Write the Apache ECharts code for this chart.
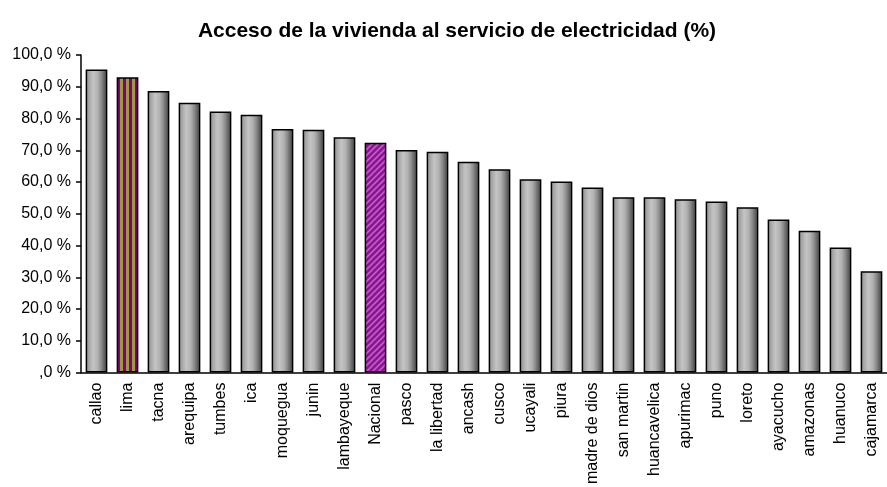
<!DOCTYPE html>
<html>
<head>
<meta charset="utf-8">
<script src="https://cdn.jsdelivr.net/npm/echarts@6/dist/echarts.min.js"></script>
<style>
  html, body { margin: 0; padding: 0; background: #fff; }
  #chart { width: 887px; height: 487px; }
</style>
</head>
<body>
<div id="chart"></div>
<script>
// valores
var departamentos = ['callao', 'lima', 'tacna', 'arequipa', 'tumbes', 'ica', 'moquegua', 'junin',
  'lambayeque', 'Nacional', 'pasco', 'la libertad', 'ancash', 'cusco', 'ucayali', 'piura',
  'madre de dios', 'san martin', 'huancavelica', 'apurimac', 'puno', 'loreto', 'ayacucho',
  'amazonas', 'huanuco', 'cajamarca'];
var acceso = [95.4, 93.0, 88.7, 85.0, 82.2, 81.2, 76.7, 76.5, 74.1, 72.4, 70.1, 69.5, 66.4,
  64.0, 60.9, 60.2, 58.3, 55.2, 55.2, 54.6, 53.9, 52.1, 48.2, 44.7, 39.4, 31.9];
var yTicks = [0, 10, 20, 30, 40, 50, 60, 70, 80, 90, 100];
var yTickLabels = [',0 %', '10,0 %', '20,0 %', '30,0 %', '40,0 %', '50,0 %', '60,0 %',
  '70,0 %', '80,0 %', '90,0 %', '100,0 %'];

var FONT = '"Liberation Sans", Arial, sans-serif';

// gris cilindrico
var gris = new echarts.graphic.LinearGradient(0, 0, 1, 0, [
  { offset: 0, color: '#8a8a8a' },
  { offset: 0.15, color: '#a6a6a6' },
  { offset: 0.35, color: '#c4c4c4' },
  { offset: 0.55, color: '#b2b2b2' },
  { offset: 0.72, color: '#8c8c8c' },
  { offset: 0.86, color: '#626262' },
  { offset: 1, color: '#545454' }
]);

// franjas verticales para lima
var stops = [];
var n = 7;
for (var i = 0; i < n; i++) {
  var c = i % 2 === 0 ? '#800080' : '#9c9a3c';
  stops.push({ offset: i / n, color: c });
  stops.push({ offset: (i + 1) / n - 0.0001, color: c });
}
var franjas = new echarts.graphic.LinearGradient(0, 0, 1, 0, stops);

// diagonal para Nacional
var cv = document.createElement('canvas');
cv.width = 6; cv.height = 6;
var ctx = cv.getContext('2d');
ctx.fillStyle = '#8b168b';
ctx.fillRect(0, 0, 6, 6);
ctx.strokeStyle = '#c25ad0';
ctx.lineWidth = 1.6;
ctx.beginPath();
ctx.moveTo(-1, 7); ctx.lineTo(7, -1);
ctx.moveTo(-4, 4); ctx.lineTo(4, -4);
ctx.moveTo(2, 10); ctx.lineTo(10, 2);
ctx.stroke();
var diagonal = { image: cv, repeat: 'repeat' };

var datos = acceso.map(function (v, i) {
  var col = gris;
  if (departamentos[i] === 'lima') col = franjas;
  if (departamentos[i] === 'Nacional') col = diagonal;
  return { value: v, itemStyle: { color: col } };
});

var chart = echarts.init(document.getElementById('chart'));
chart.setOption({
  animation: false,
  graphic: [{
    type: 'text',
    x: 457, y: 31,
    style: {
      text: 'Acceso de la vivienda al servicio de electricidad (%)',
      font: 'bold 21px "Liberation Sans Narrow", "Liberation Sans", Arial, sans-serif',
      fill: '#000',
      textAlign: 'center',
      textVerticalAlign: 'middle'
    }
  }],
  grid: { left: 81, right: -6.5, top: 55, bottom: 113.7 },
  xAxis: {
    type: 'category',
    data: departamentos,
    axisLine: { lineStyle: { color: '#000', width: 1.5 } },
    axisTick: { length: 5, lineStyle: { color: '#000', width: 1.5 } },
    axisLabel: { rotate: 90, interval: 0, margin: 10, fontSize: 16, color: '#000', fontFamily: FONT }
  },
  yAxis: {
    type: 'value',
    min: 0, max: 100, interval: 10,
    splitLine: { show: false },
    axisLine: { show: true, lineStyle: { color: '#000', width: 1.5 } },
    axisTick: { show: true, length: 5, lineStyle: { color: '#000', width: 1.5 } },
    axisLabel: {
      margin: 10, fontSize: 16, color: '#000', fontFamily: FONT,
      formatter: function (v) { return yTickLabels[yTicks.indexOf(v)]; }
    }
  },
  series: [{
    type: 'bar',
    data: datos,
    barCategoryGap: '30%',
    itemStyle: { borderColor: '#000', borderWidth: 1.5 }
  }]
});
</script>
</body>
</html>
